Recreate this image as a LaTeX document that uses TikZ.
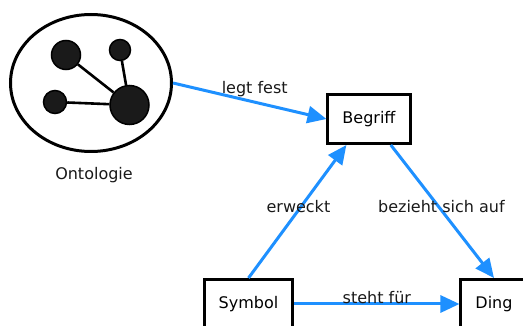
\documentclass[tikz,border=0pt]{standalone}
\usepackage{fontspec}
\setmainfont{DejaVu Sans}
\usetikzlibrary{positioning, shapes.geometric, arrows.meta}
\definecolor{pfeilblau}{HTML}{1E90FF}
\definecolor{kugelgrau}{HTML}{1A1A1A}
\tikzset{kasten/.style={rectangle,draw,line width=3pt,minimum height=49pt,inner xsep=14.5pt,inner ysep=0pt},
	kugel/.style={circle,draw,line width=1.5pt,fill=kugelgrau,inner sep=0},
	kante/.style={line width=2.6pt},
	pfeil/.style={draw=pfeilblau,line width=3pt,-{Triangle[length=19pt,width=17pt]}},
	etikett/.style={inner sep=0,text=black!90} }

\begin{document}
\begin{tikzpicture}
	[x=1pt,y=-1pt,
	 font=\fontsize{16pt}{19pt}\selectfont]
	\useasboundingbox (0,0) rectangle (523,326);

  % Ontologie
  \node (ontologie) [ellipse,draw,line width=3pt,minimum width=161pt,minimum height=137pt,inner sep=0] at (91,83) {};
  \node (ontolabel) [etikett,below=14pt of ontologie,xshift=3pt] {Ontologie};
  \node (gross) [kugel,minimum size=39pt] at (129.5,105) {};
  \node (links) [kugel,minimum size=29pt] at (66,55) {};
  \node (oben) [kugel,minimum size=21pt] at (120,50) {};
  \node (unten) [kugel,minimum size=23pt] at (55,102) {};
  \draw[kante] (links) -- (gross);
  \draw[kante] (oben) -- (gross);
  \draw[kante] (unten) -- (gross);

  % Dreieck
  \node (begriff) [kasten] at (369,119) {Begriff};
  \node (symbol) [kasten] at (248.5,304) {Symbol};
  \node (ding) [kasten] at (494,304) {Ding};

  \draw[pfeil] (ontologie.east) -- node [etikett,xshift=5pt,yshift=12pt] {legt fest} (begriff.west);
  \draw[pfeil] (symbol.north) -- node [etikett,xshift=1pt,yshift=5pt] {erweckt} (begriff.229);
  \draw[pfeil] (begriff.-50) -- node [etikett,xshift=-1pt,yshift=5pt] {bezieht sich auf} (ding.north);
  \draw[pfeil] (symbol.east) -- node [etikett,yshift=6pt] {steht für} (ding.west);
\end{tikzpicture}
\end{document}
